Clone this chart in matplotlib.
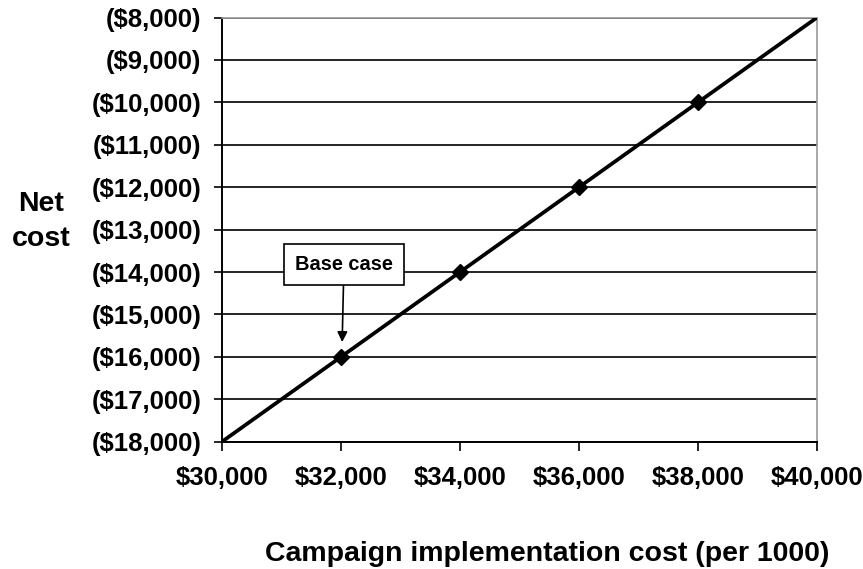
import numpy as np
import matplotlib.pyplot as plt
from matplotlib.ticker import FuncFormatter

plt.rcParams['font.family'] = ['Liberation Sans', 'DejaVu Sans']
plt.rcParams['font.weight'] = 'bold'

# campaign implementation cost vs net cost
campaign_cost = [30000, 32000, 34000, 36000, 38000, 40000]
net_cost = [-18000, -16000, -14000, -12000, -10000, -8000]
marker_cost = [32000, 34000, 36000, 38000]
marker_net = [-16000, -14000, -12000, -10000]
base_case = (32000, -16000)


def money(v, pos=None):
    if v < 0:
        return "(${:,.0f})".format(-v)
    return "${:,.0f}".format(v)


fig = plt.figure(figsize=(8.63, 5.69), dpi=100)
ax = fig.add_axes([0.2572, 0.2237, 0.6895, 0.7455])

ax.plot(campaign_cost, net_cost, color="black", lw=2.7, zorder=3)
ax.plot(marker_cost, marker_net, ls="none", marker="D", ms=8.5, color="black", zorder=4)

ax.set_xlim(30000, 40000)
ax.set_ylim(-18000, -8000)
ax.set_xticks(np.arange(30000, 40001, 2000))
ax.set_yticks(np.arange(-18000, -7999, 1000))
ax.xaxis.set_major_formatter(FuncFormatter(money))
ax.yaxis.set_major_formatter(FuncFormatter(money))
ax.yaxis.grid(True, color="black", lw=1.2)
ax.set_axisbelow(True)

ax.tick_params(axis="y", direction="out", length=6, width=1.2, pad=9, labelsize=18.5)
ax.tick_params(axis="x", direction="out", length=6.5, width=1.2, pad=11, labelsize=18.5)
for s in ("left", "bottom"):
    ax.spines[s].set_color("black")
    ax.spines[s].set_linewidth(1.4)
for s in ("top", "right"):
    ax.spines[s].set_color("#999999")
    ax.spines[s].set_linewidth(1.2)

ax.annotate("Base case", xy=(base_case[0] + 20, base_case[1] + 350),
            xytext=(base_case[0] + 50, base_case[1] + 2180),
            ha="center", va="center", fontsize=14.4, fontweight="bold",
            bbox=dict(boxstyle="square,pad=0.55", fc="white", ec="black", lw=1.2),
            arrowprops=dict(arrowstyle="-|>", color="black", lw=1.2,
                            mutation_scale=15, shrinkA=0, shrinkB=0))

fig.text(0.048, 0.611, "Net\ncost", ha="center", va="center", fontsize=20.5,
         fontweight="bold", linespacing=1.42)
fig.text(0.634, 0.026, "Campaign implementation cost (per 1000)", ha="center",
         va="center", fontsize=20.5, fontweight="bold")

fig.savefig("out.png", dpi=100)
